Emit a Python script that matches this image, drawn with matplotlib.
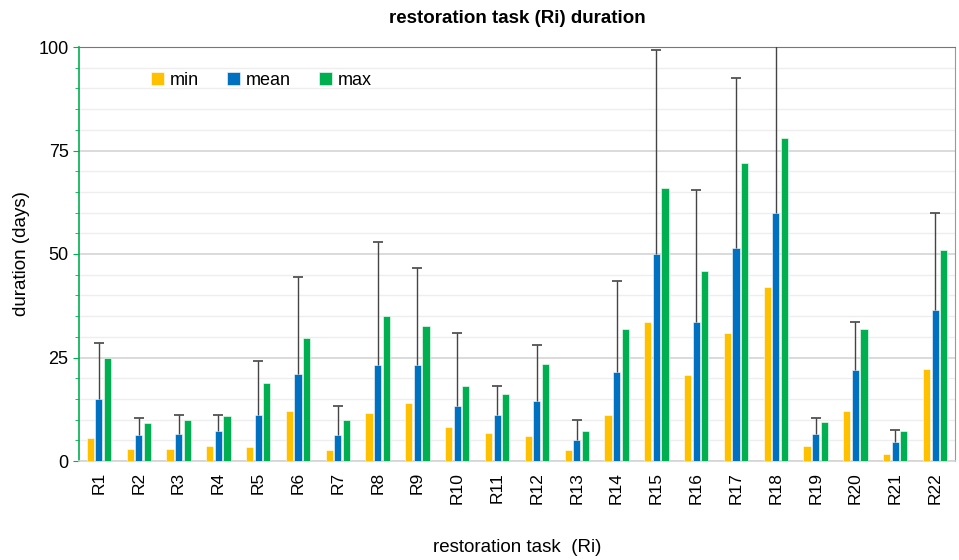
"""
Restoration task durations: min / mean / max bars with upper error bars.
"""

import numpy as np
import matplotlib
matplotlib.use("Agg")
import matplotlib.pyplot as plt
from matplotlib.ticker import MultipleLocator

plt.rcParams["font.family"] = ["Liberation Sans", "DejaVu Sans"]

tasks = ["R%d" % i for i in range(1, 23)]
min_days = [5.5, 3.0, 3.0, 3.7, 3.3, 12.0, 2.7, 11.5, 14.0, 8.2, 6.7,
            6.0, 2.7, 11.2, 33.6, 20.8, 31.0, 42.0, 3.6, 12.0, 1.8, 22.2]
mean_days = [15.0, 6.2, 6.5, 7.2, 11.2, 21.0, 6.4, 23.3, 23.3, 13.2, 11.2,
             14.6, 5.0, 21.6, 50.0, 33.5, 51.5, 60.0, 6.5, 22.0, 4.6, 36.5]
max_days = [25.0, 9.2, 10.0, 10.8, 18.8, 29.8, 10.0, 35.0, 32.7, 18.0, 16.2,
            23.5, 7.3, 32.0, 66.0, 46.0, 72.0, 78.0, 9.4, 32.0, 7.2, 51.0]
# top of the error whisker above the mean bar
err_top = [28.5, 10.5, 11.0, 11.2, 24.2, 44.5, 13.2, 53.0, 46.5, 31.0, 18.0,
           28.0, 10.0, 43.5, 99.3, 65.5, 92.5, 110.0, 10.3, 33.5, 7.6, 59.8]

x = np.arange(len(tasks))
w = 0.18
step = 0.215

fig = plt.figure(figsize=(9.59, 5.6), dpi=100)
ax = fig.add_axes([79 / 959, 99 / 560, 876 / 959, 414 / 560])

ax.bar(x - step, min_days, w, color="#FFC000", edgecolor="white", linewidth=0.4, label="min", zorder=3)
ax.bar(x, mean_days, w, color="#0070C0", edgecolor="white", linewidth=0.4, label="mean", zorder=3)
ax.bar(x + step, max_days, w, color="#00B050", edgecolor="white", linewidth=0.4, label="max", zorder=3)

# one-sided whiskers: line from the mean up, cap only at the top
ax.vlines(x, mean_days, err_top, color="#444444", linewidth=1.0, zorder=4)
ax.plot(x, err_top, linestyle="none", marker="_", markersize=7,
        markeredgewidth=1.2, color="#444444", zorder=4)

ax.set_xlim(-0.5, len(tasks) - 0.5)
ax.set_ylim(0, 100)
ax.yaxis.set_major_locator(MultipleLocator(25))
ax.yaxis.set_minor_locator(MultipleLocator(5))
ax.grid(axis="y", which="major", color="#d4d4d4", linewidth=1.2, zorder=0)
ax.grid(axis="y", which="minor", color="#eeeeee", linewidth=1.0, zorder=0)

ax.set_xticks(x)
ax.set_xticklabels(tasks, rotation=90, fontsize=12.5)
ax.tick_params(axis="x", length=0, pad=8)
ax.tick_params(axis="y", which="major", labelsize=13, length=4, color="#00B050", direction="out")
ax.tick_params(axis="y", which="minor", length=3, color="#00B050", direction="out")

ax.spines["left"].set_color("#00B050")
ax.spines["left"].set_linewidth(1.2)
ax.spines["bottom"].set_color("#d4d4d4")
ax.spines["bottom"].set_linewidth(1.2)
ax.spines["top"].set_color("#777777")
ax.spines["right"].set_color("#999999")

ax.set_title("restoration task (Ri) duration", fontsize=13.5, fontweight="bold", pad=17)
ax.set_ylabel("duration (days)", fontsize=13.5, labelpad=6)
ax.set_xlabel("restoration task  (Ri)", fontsize=13.5, labelpad=25)

ax.legend(loc="upper left", bbox_to_anchor=(0.064, 0.98), ncol=3, frameon=False,
          fontsize=13, handlelength=0.7, handleheight=0.7, handletextpad=0.3,
          columnspacing=1.6)

fig.savefig("out.png", dpi=100)
